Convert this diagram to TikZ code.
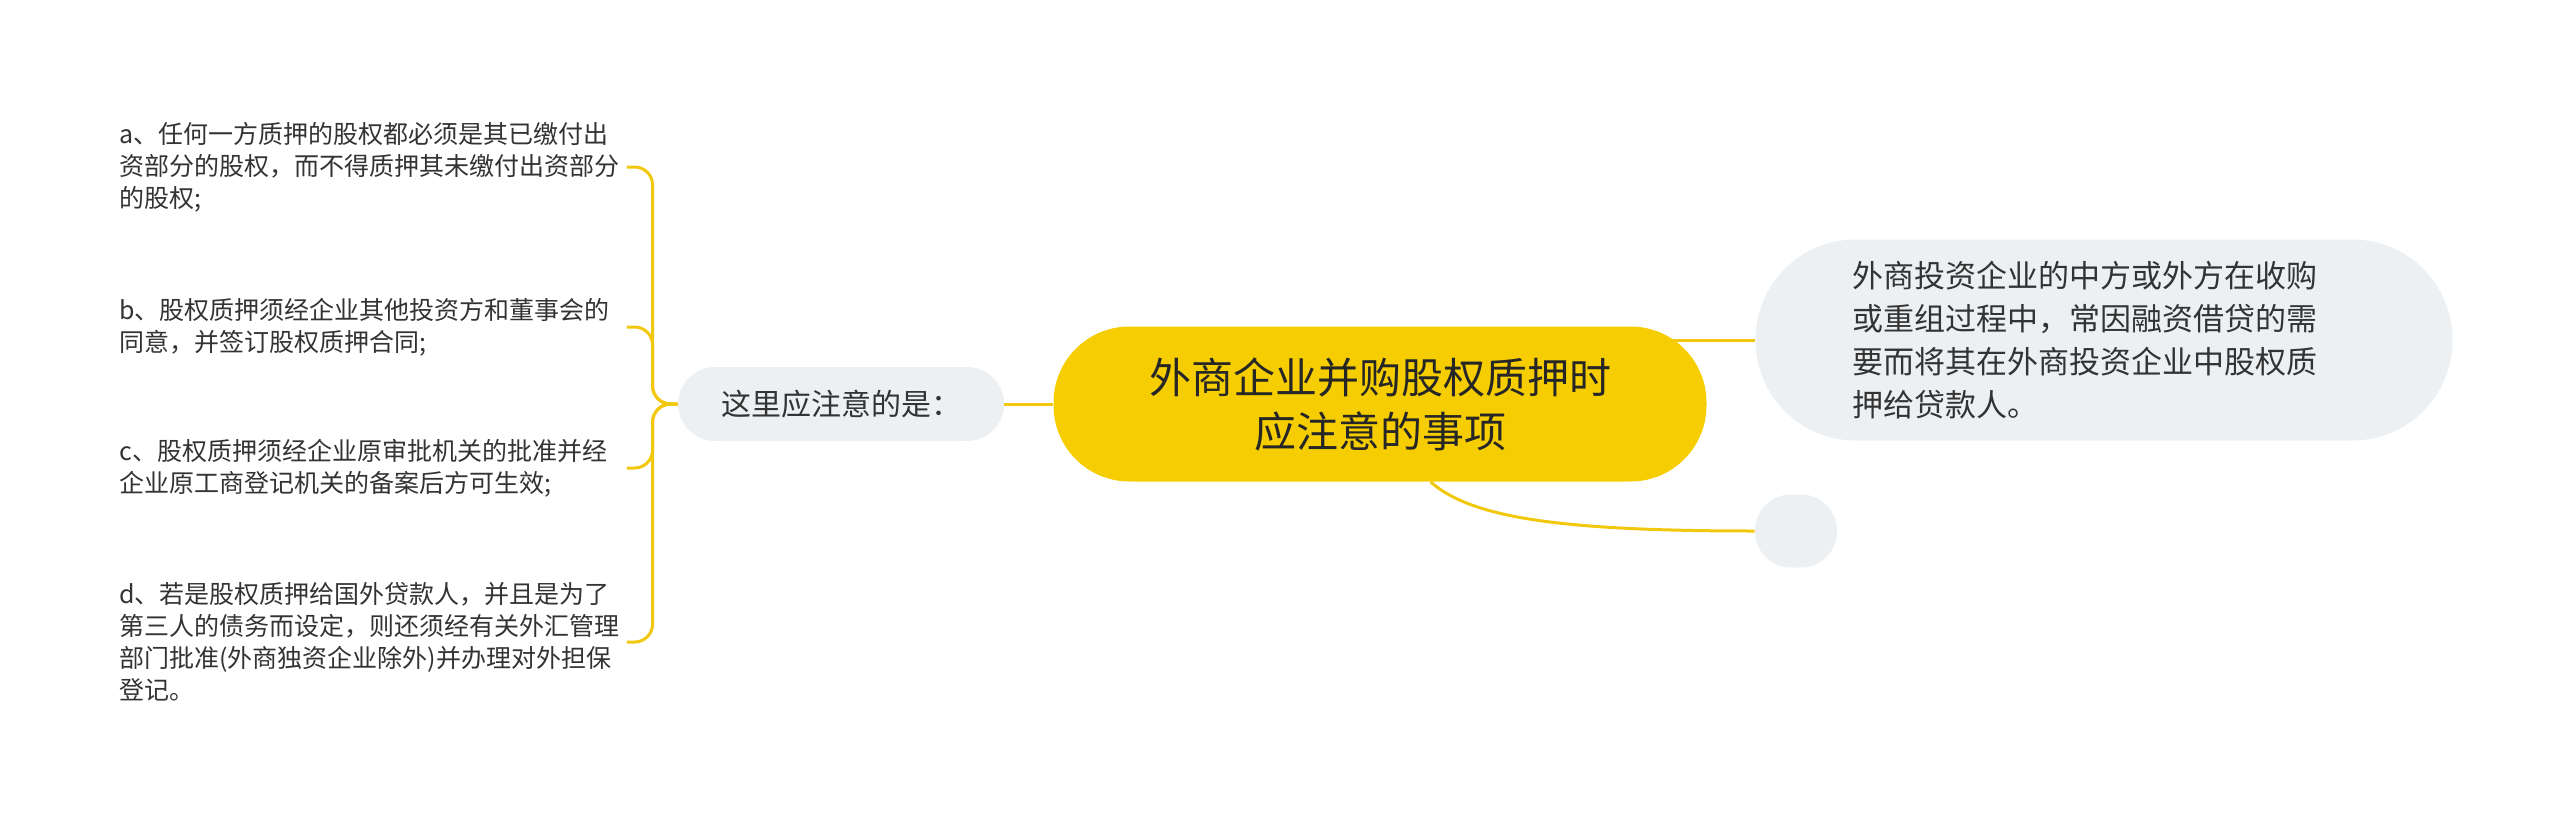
\documentclass[tikz,border=0pt]{standalone}
\usepackage{fontspec}
\setmainfont{Noto Sans CJK SC}
\usetikzlibrary{backgrounds}
\definecolor{gold}{HTML}{F5CD00}
\definecolor{linkgold}{HTML}{F2C80F}
\definecolor{pale}{HTML}{EDF0F3}
\definecolor{ink}{HTML}{333333}
\tikzset{
  topic/.style={fill=gold, rounded corners=38pt, minimum width=326.5pt, minimum height=77.5pt,
    align=center, text=black!85, font=\fontsize{21}{27}\selectfont},
  sub/.style={fill=pale, rounded corners=18.5pt, minimum width=163pt, minimum height=37pt,
    text=ink, font=\fontsize{15}{19}\selectfont},
  note/.style={fill=pale, rounded corners=50pt, minimum width=348.5pt, minimum height=100.5pt,
    text width=252pt, align=left, text=ink, font=\fontsize{15.5}{21.5}\selectfont},
  leaf/.style={anchor=west, text width=251.5pt, inner sep=2pt, align=left, text=ink,
    font=\fontsize{12.5}{16}\selectfont},
  link/.style={draw=linkgold, line width=1.5pt},
}
\begin{document}
\begin{tikzpicture}[x=0.5pt, y=-0.5pt]
  \useasboundingbox (0,0) rectangle (2560,825);
  \node[topic] (c) at (1380,404) {外商企业并购股权质押时\\应注意的事项};
  \node[sub] (l) at (841,404) {这里应注意的是：};
  \node[note] (r) at (2104,340) {外商投资企业的中方或外方在收购\\或重组过程中，常因融资借贷的需\\要而将其在外商投资企业中股权质\\押给贷款人。};
  \node[fill=pale, rounded corners=18pt, minimum width=41pt, minimum height=36.5pt] (e) at (1796,531) {};
  \node[leaf] (a) at (115,167) {a、任何一方质押的股权都必须是其已缴付出\\资部分的股权，而不得质押其未缴付出资部分\\的股权;};
  \node[leaf] (b) at (115,327) {b、股权质押须经企业其他投资方和董事会的\\同意，并签订股权质押合同;};
  \node[leaf] (cc) at (115,468) {c、股权质押须经企业原审批机关的批准并经\\企业原工商登记机关的备案后方可生效;};
  \node[leaf] (d) at (115,642) {d、若是股权质押给国外贷款人，并且是为了\\第三人的债务而设定，则还须经有关外汇管理\\部门批准(外商独资企业除外)并办理对外担保\\登记。};
  \begin{scope}[on background layer]
    \draw[link] (r.west) -- (r.west -| c.center);
    \draw[link] (l.east) -- (c.west);
    \draw[link] (c.-57) .. controls +(40,35) and +(-200,0) .. (e.west);
    \foreach \n in {a,b,cc,d}
      \draw[link, rounded corners=9pt] (l.west) -- ++(-25,0) |- (\n.east);
  \end{scope}
\end{tikzpicture}
\end{document}
